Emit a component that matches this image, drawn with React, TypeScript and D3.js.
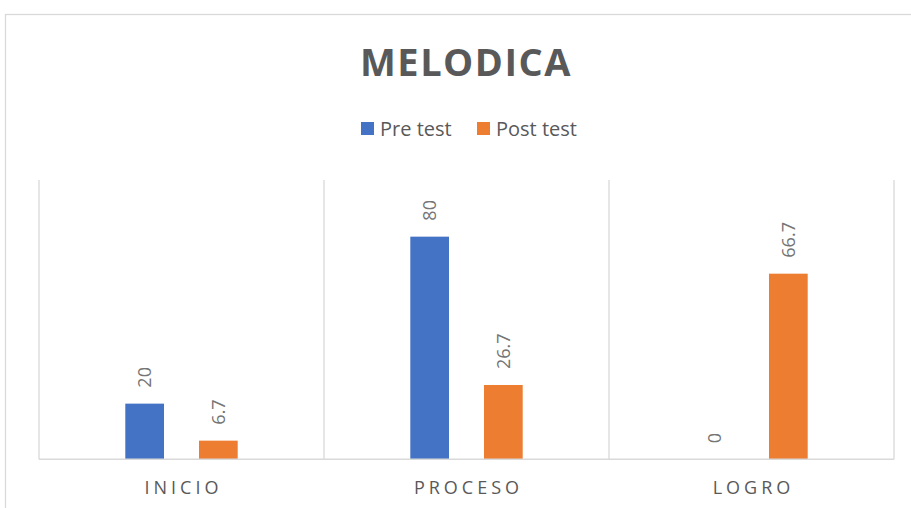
import React from 'react';
import * as d3 from 'd3';

// datos
const categorias = ['INICIO', 'PROCESO', 'LOGRO'];
const series = ['Pre test', 'Post test'];
const preTest = [20, 80, 0];
const postTest = [6.7, 26.7, 66.7];
const colores = ['#4472C4', '#ED7D31'];

function App() {
  const width = 911, height = 508;
  const left = 39, right = 894, top = 180, bottom = 459.3;

  const x0 = d3.scaleBand().domain(categorias).range([left, right]);
  const x1 = d3.scaleBand().domain(series).range([0, x0.bandwidth()])
    .paddingInner(0.475).paddingOuter(1.171);
  const y = d3.scaleLinear().domain([0, 100]).range([bottom, top + 1]);

  const valores = [preTest, postTest];
  const gris = '#d9d9d9';

  return (
    <svg width={width} height={height} style={{ position: 'absolute', left: 0, top: 0 }}
      fontFamily="'Open Sans', sans-serif">
      <rect x={0} y={0} width={width} height={height} fill="#fff" />
      <rect x={5.5} y={14.5} width={912} height={520} fill="none" stroke={gris} strokeWidth={1.3} />

      <text x={466} y={76} textAnchor="middle" fontSize={38} fontWeight="bold" fill="#595959"
        letterSpacing={1.5}>MELODICA</text>

      {/* leyenda */}
      <g>
        <rect x={361} y={122} width={13} height={13} fill={colores[0]} />
        <text x={380} y={136} fontSize={20} fill="#595959">{series[0]}</text>
        <rect x={477} y={122} width={13} height={13} fill={colores[1]} />
        <text x={496} y={136} fontSize={20} fill="#595959">{series[1]}</text>
      </g>

      {/* lineas verticales entre categorias */}
      {categorias.map((c) => (
        <line key={'g' + c} x1={x0(c)} x2={x0(c)} y1={top} y2={bottom} stroke={gris} strokeWidth={1.3} />
      ))}
      <line x1={right} x2={right} y1={top} y2={bottom} stroke={gris} strokeWidth={1.3} />

      {/* barras */}
      {series.map((s, i) => (
        <g key={s}>
          {categorias.map((c, j) => {
            const v = valores[i][j];
            const bx = x0(c) + x1(s);
            const cx = bx + x1.bandwidth() / 2;
            return (
              <g key={c}>
                {v > 0 && <rect x={bx} y={y(v)} width={x1.bandwidth()} height={bottom - y(v)} fill={colores[i]} />}
                <text transform={`translate(${cx},${y(v) - 16}) rotate(-90)`} dy="0.36em" fontSize={18}
                  fill="#757575">{v}</text>
              </g>
            );
          })}
        </g>
      ))}

      <line x1={left} x2={right} y1={bottom} y2={bottom} stroke={gris} strokeWidth={1.5} />

      {/* etiquetas de categoria */}
      {categorias.map((c) => (
        <text key={'t' + c} x={x0(c) + x0.bandwidth() / 2 + 2} y={494} textAnchor="middle" fontSize={18}
          letterSpacing={4} fill="#595959">{c}</text>
      ))}
    </svg>
  );
}

export default App;
